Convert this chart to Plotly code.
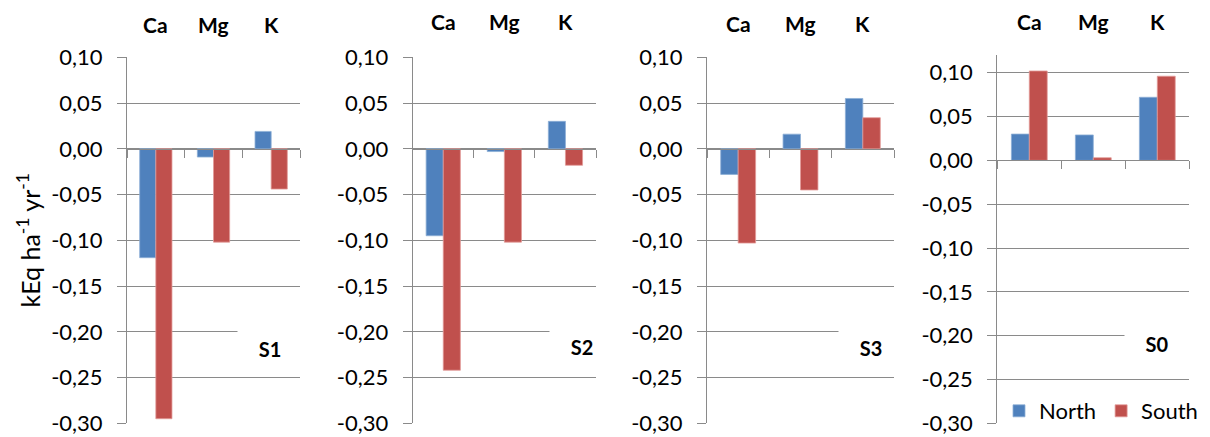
import plotly.graph_objects as go

# Base-cation budgets per scenario (kEq ha-1 yr-1)
elements = ["Ca", "Mg", "K"]
scenarios = ["S1", "S2", "S3", "S0"]

north_s1 = [-0.119, -0.009, 0.019]
south_s1 = [-0.295, -0.102, -0.044]
north_s2 = [-0.095, -0.003, 0.030]
south_s2 = [-0.242, -0.102, -0.018]
north_s3 = [-0.028, 0.016, 0.055]
south_s3 = [-0.103, -0.045, 0.034]
north_s0 = [0.030, 0.029, 0.072]
south_s0 = [0.102, 0.003, 0.096]

north_series = [north_s1, north_s2, north_s3, north_s0]
south_series = [south_s1, south_s2, south_s3, south_s0]

y_ticks = [0.10, 0.05, 0.00, -0.05, -0.10, -0.15, -0.20, -0.25, -0.30]
y_tick_labels = ["0,10", "0,05", "0,00", "-0,05", "-0,10", "-0,15", "-0,20", "-0,25", "-0,30"]
y_min = -0.30
y_max = [0.10, 0.10, 0.10, 0.12]

NORTH_COLOR = "#4F81BD"
NORTH_EDGE = "#8DAED6"
SOUTH_COLOR = "#C0504D"
SOUTH_EDGE = "#E29A98"
GRID = "#8A8A8A"
FONT = "Lato"

W, H = 1210, 437
# plot-area boxes in pixels
panel_left = [127, 412.7, 707, 997.3]
panel_right = [300, 596, 894, 1189.3]
panel_top = [57.3, 57.3, 57.3, 55.2]
panel_bottom = 423.3
# scenario tag centres (pixels)
tag_x = [270, 582, 871, 1157]
tag_y = [349, 347, 348, 343.5]
# element header centre heights (pixels)
head_y = [24, 22, 23, 22]


def px_x(v):
    return v / W


def px_y(v):
    return (H - v) / H


fig = go.Figure()
layout = {}
annotations = []

for i, name in enumerate(scenarios):
    k = "" if i == 0 else str(i + 1)
    xa, ya = "x" + k, "y" + k
    last = i == len(scenarios) - 1

    fig.add_trace(go.Bar(
        x=elements, y=north_series[i], name="North",
        marker=dict(color=NORTH_COLOR, line=dict(width=0.8, color=NORTH_EDGE)),
        xaxis=xa, yaxis=ya, showlegend=last, legendgroup="North",
    ))
    fig.add_trace(go.Bar(
        x=elements, y=south_series[i], name="South",
        marker=dict(color=SOUTH_COLOR, line=dict(width=0.8, color=SOUTH_EDGE)),
        xaxis=xa, yaxis=ya, showlegend=last, legendgroup="South",
    ))

    y0, y1 = px_y(panel_bottom), px_y(panel_top[i])
    zero_pos = y0 + (0 - y_min) / (y_max[i] - y_min) * (y1 - y0)

    layout["xaxis" + k] = dict(
        domain=[px_x(panel_left[i]), px_x(panel_right[i])],
        anchor="free", position=zero_pos,
        type="category", categoryorder="array", categoryarray=elements,
        showline=True, linecolor=GRID, linewidth=1,
        ticks="outside", tickson="boundaries", ticklen=8, tickcolor=GRID,
        showticklabels=False, showgrid=False, zeroline=False,
        automargin=False, fixedrange=True,
    )
    layout["yaxis" + k] = dict(
        domain=[y0, y1], anchor=xa, range=[y_min, y_max[i]],
        tickvals=y_ticks, ticktext=y_tick_labels,
        showline=True, linecolor=GRID, linewidth=1,
        ticks="outside", ticklen=9, tickcolor=GRID,
        showgrid=True, gridcolor=GRID, gridwidth=1, zeroline=False,
        tickfont=dict(family=FONT, size=22, color="#000000"),
        ticklabelstandoff=10,
        automargin=False, fixedrange=True,
    )

    for el in elements:
        annotations.append(dict(
            x=el, xref=xa, y=px_y(head_y[i]), yref="paper",
            xanchor="center", yanchor="middle",
            text="<b>" + el + "</b>", showarrow=False,
            font=dict(family=FONT, size=21, color="#000000"),
        ))

    annotations.append(dict(
        x=px_x(tag_x[i]), y=px_y(tag_y[i]), xref="paper", yref="paper",
        xanchor="center", yanchor="middle",
        text="<b>" + name + "</b>", showarrow=False,
        width=64, height=40, bgcolor="#FFFFFF", borderpad=0,
        font=dict(family=FONT, size=20, color="#000000"),
    ))

layout["yaxis"]["title"] = dict(
    text="kEq ha<sup>-1</sup> yr<sup>-1</sup>",
    font=dict(family=FONT, size=25, color="#000000"),
    standoff=3,
)

fig.update_layout(
    **layout,
    annotations=annotations,
    width=W, height=H,
    margin=dict(l=0, r=0, t=0, b=0, autoexpand=False),
    paper_bgcolor="#FFFFFF", plot_bgcolor="#FFFFFF",
    barmode="group", bargap=0.44, bargroupgap=0,
    font=dict(family=FONT, color="#000000"),
    legend=dict(
        orientation="h", x=px_x(999), xanchor="left",
        y=px_y(411), yanchor="middle",
        bgcolor="#FFFFFF", borderwidth=0,
        font=dict(family=FONT, size=22, color="#000000"),
        traceorder="normal",
    ),
)

fig.write_html("out.html")
